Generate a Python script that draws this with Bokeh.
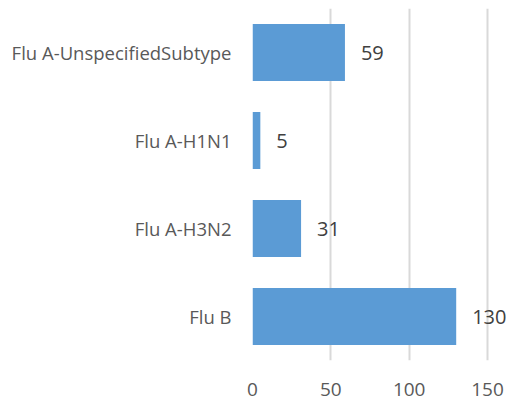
from bokeh.plotting import figure
from bokeh.models import ColumnDataSource, LabelSet, FixedTicker, FactorRange, Range1d
from bokeh.core.properties import value
from bokeh.embed import file_html
from bokeh.resources import INLINE

categories = ["Flu B", "Flu A-H3N2", "Flu A-H1N1", "Flu A-UnspecifiedSubtype"]
counts = [130, 31, 5, 59]
x_ticks = [0, 50, 100, 150]

FONT = "Open Sans"
TEXT = "#595959"

src = ColumnDataSource(dict(cat=categories, val=counts, lbl=[str(v) for v in counts]))

p = figure(width=506, height=401, output_backend="svg", toolbar_location=None,
           y_range=FactorRange(factors=categories), x_range=Range1d(0, 162.1),
           min_border_left=252, min_border_right=0, min_border_top=8, min_border_bottom=41)
p.outline_line_color = None
p.background_fill_color = "white"
p.border_fill_color = "white"

p.hbar(y="cat", right="val", left=0, height=0.65, source=src,
       fill_color="#5B9BD5", line_color=None)

labels = LabelSet(x="val", y="cat", text="lbl", source=src, x_offset=16,
                  text_baseline="middle", text_align="left",
                  text_font=value(FONT), text_font_size="20px", text_color="#404040")
p.add_layout(labels)

p.xaxis.ticker = FixedTicker(ticks=x_ticks)
p.xaxis.axis_line_color = None
p.xaxis.major_tick_line_color = None
p.xaxis.minor_tick_line_color = None
p.xaxis.major_tick_out = 0
p.xaxis.major_tick_in = 0
p.xaxis.major_label_standoff = 22
p.xaxis.major_label_text_font = FONT
p.xaxis.major_label_text_font_size = "19px"
p.xaxis.major_label_text_color = TEXT

p.yaxis.axis_line_color = None
p.yaxis.major_tick_line_color = None
p.yaxis.minor_tick_line_color = None
p.yaxis.major_tick_out = 0
p.yaxis.major_tick_in = 0
p.yaxis.major_label_standoff = 21
p.yaxis.major_label_text_font = FONT
p.yaxis.major_label_text_font_size = "18.5px"
p.yaxis.major_label_text_color = TEXT

p.ygrid.grid_line_color = None
p.xgrid.ticker = FixedTicker(ticks=x_ticks)
p.xgrid.grid_line_color = "#D9D9D9"
p.xgrid.grid_line_width = 2

open("out.html", "w").write(file_html(p, INLINE))
